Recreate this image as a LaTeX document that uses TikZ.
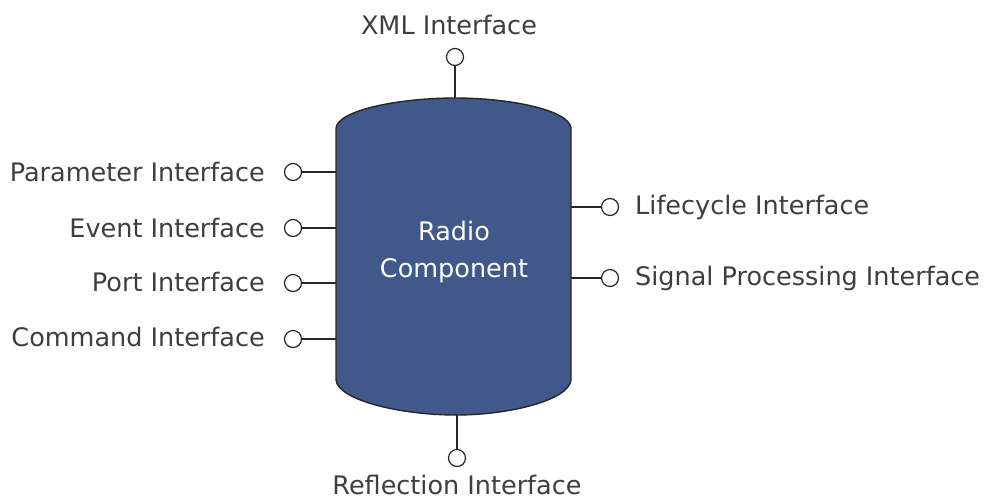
\documentclass[tikz,border=0pt]{standalone}
\usepackage{fontspec}
\setmainfont{DejaVu Sans}
\definecolor{bodyblue}{RGB}{64,88,138}
\definecolor{txtgray}{RGB}{62,62,62}
\begin{document}
\begin{tikzpicture}[x=1pt,y=-1pt,
  lollipop/.style={circle,draw=black!85,fill=white,line width=1.2pt,minimum size=17pt,inner sep=0pt},
  stem/.style={draw=black!85,line width=1.4pt},
  lbl/.style={text=txtgray,font=\fontsize{25.5}{30}\selectfont,inner sep=0pt},
  inner/.style={text=white,font=\fontsize{25.5}{37}\selectfont,align=center,inner sep=0pt}]
\useasboundingbox (0,0) rectangle (993,499);
% body
\draw[fill=bodyblue,draw=black!85,line width=1.4pt]
  (336,128) .. controls (338,110) and (400,98) .. (455,98)
  .. controls (510,98) and (569,110) .. (571,128)
  -- (571,380) .. controls (569,400) and (510,415) .. (456,415)
  .. controls (400,415) and (338,400) .. (336,380) -- cycle;
\node[inner] (body) at (454,252) {Radio\\Component};
% attach points
\coordinate (aTop) at (455,98);
\coordinate (aBot) at (457,415);
\coordinate (aP) at (336,172);
\coordinate (aE) at (336,228);
\coordinate (aPo) at (336,283);
\coordinate (aC) at (336,339);
\coordinate (aL) at (571,207);
\coordinate (aS) at (571,278);
% lollipops
\node[lollipop] (cX) at (455,57) {};
\node[lollipop] (cR) at (457,458) {};
\node[lollipop] (cP) at (293,172) {};
\node[lollipop] (cE) at (293,228) {};
\node[lollipop] (cPo) at (293,283) {};
\node[lollipop] (cC) at (293,339) {};
\node[lollipop] (cL) at (610,207) {};
\node[lollipop] (cS) at (610,278) {};
\draw[stem] (cX) -- (aTop);
\draw[stem] (cR) -- (aBot);
\draw[stem] (cP) -- (aP);
\draw[stem] (cE) -- (aE);
\draw[stem] (cPo) -- (aPo);
\draw[stem] (cC) -- (aC);
\draw[stem] (cL) -- (aL);
\draw[stem] (cS) -- (aS);
% labels
\node[lbl] (tX) at (449,25) {XML Interface};
\node[lbl] (tR) at (457,485) {Reflection Interface};
\node[lbl,anchor=east] (tP) at (265,172) {Parameter Interface};
\node[lbl,anchor=east] (tE) at (265,228) {Event Interface};
\node[lbl,anchor=east] (tPo) at (265,282) {Port Interface};
\node[lbl,anchor=east] (tC) at (265,337) {Command Interface};
\node[lbl,anchor=west] (tL) at (635,207) {Lifecycle Interface};
\node[lbl,anchor=west] (tS) at (635,278) {Signal Processing Interface};
\end{tikzpicture}
\end{document}
